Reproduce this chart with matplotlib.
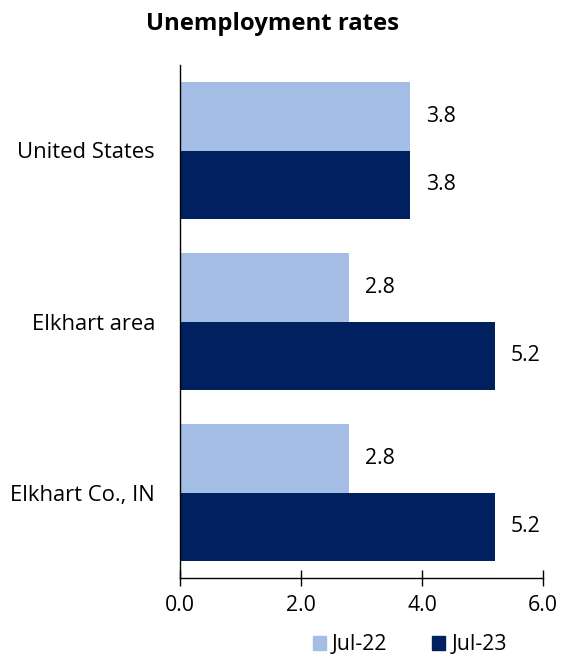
import matplotlib
matplotlib.use("Agg")
import matplotlib.pyplot as plt
import numpy as np
from matplotlib.patches import Patch

plt.rcParams['font.family'] = ['Open Sans', 'DejaVu Sans']

categories = ["Elkhart Co., IN", "Elkhart area", "United States"]
jul22 = [2.8, 2.8, 3.8]
jul23 = [5.2, 5.2, 3.8]
series_names = ["Jul-22", "Jul-23"]
xticks = [0.0, 2.0, 4.0, 6.0]

c22 = "#A3BDE5"
c23 = "#002060"

fig = plt.figure(figsize=(5.61, 6.56), dpi=100)
ax = fig.add_axes([180/561, 1-578/656, (543-180)/561, (578-65)/656])

y = np.arange(len(categories))
h = 0.4
b1 = ax.barh(y + h/2, jul22, height=h, color=c22)
b2 = ax.barh(y - h/2, jul23, height=h, color=c23)

fs = 15.3
for bars, vals in ((b1, jul22), (b2, jul23)):
    for rect, v in zip(bars, vals):
        ax.text(v + 0.26, rect.get_y() + rect.get_height()/2, f"{v:.1f}",
                va="center", ha="left", fontsize=fs, color="black")

ax.set_xlim(0, 6)
ax.set_ylim(-0.5, 2.5)
ax.set_xticks(xticks)
ax.set_xticklabels([f"{t:.1f}" for t in xticks], fontsize=fs)
ax.set_yticks(y)
ax.set_yticklabels(categories, fontsize=15.8)
ax.tick_params(axis="y", length=0, pad=18)
ax.tick_params(axis="x", direction="inout", length=12, width=1, pad=6)
for s in ("top", "right"):
    ax.spines[s].set_visible(False)
ax.spines["left"].set_linewidth(1)
ax.spines["bottom"].set_linewidth(1)

fig.text(273/561, 1-24/656, "Unemployment rates", ha="center", va="center",
         fontsize=17.2, fontweight="bold")

handles = [Patch(color=c22), Patch(color=c23)]
fig.legend(handles, series_names, loc="center", bbox_to_anchor=(410/561, 1-645/656),
           ncol=2, frameon=False, fontsize=fs, handlelength=0.6, handleheight=0.6,
           handletextpad=0.3, columnspacing=2.1)

fig.savefig("out.png", dpi=100)
